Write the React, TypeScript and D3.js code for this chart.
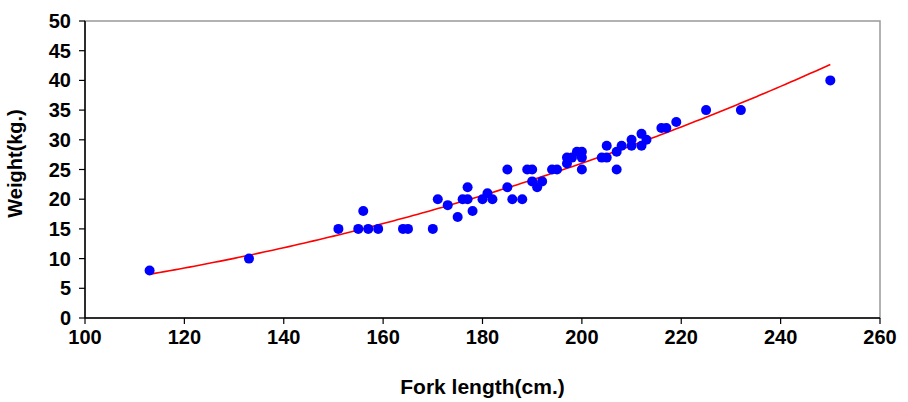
import React from 'react'
import * as d3 from 'd3'

// fork length (cm) and weight (kg) for each fish
const forkLength = [
  113, 133, 151, 155, 156, 157, 159, 164, 165, 170,
  171, 173, 175, 176, 177, 177, 178, 180, 181, 182,
  185, 185, 186, 188, 189, 190, 190, 191, 192, 194,
  195, 197, 197, 198, 199, 200, 200, 200, 204, 205,
  205, 207, 207, 208, 210, 210, 212, 212, 213, 216,
  217, 219, 225, 232, 250
]
const weight = [
  8, 10, 15, 15, 18, 15, 15, 15, 15, 15,
  20, 19, 17, 20, 22, 20, 18, 20, 21, 20,
  25, 22, 20, 20, 25, 25, 23, 22, 23, 25,
  25, 27, 26, 27, 28, 28, 27, 25, 27, 29,
  27, 25, 28, 29, 30, 29, 31, 29, 30, 32,
  32, 33, 35, 35, 40
]
const xTicks = [100, 120, 140, 160, 180, 200, 220, 240, 260]
const yTicks = [0, 5, 10, 15, 20, 25, 30, 35, 40, 45, 50]

const W = 908
const H = 402
const margin = { top: 21, right: 28, bottom: 84, left: 85 }

// power trend line W = a * L^b, least squares on logs (same as a spreadsheet power fit)
function powerFit(xs: number[], ys: number[]) {
  const lx = xs.map(Math.log)
  const ly = ys.map(Math.log)
  const mx = d3.mean(lx) as number
  const my = d3.mean(ly) as number
  let sxy = 0
  let sxx = 0
  lx.forEach((v, i) => {
    sxy += (v - mx) * (ly[i] - my)
    sxx += (v - mx) * (v - mx)
  })
  const b = sxy / sxx
  const a = Math.exp(my - b * mx)
  return (l: number) => a * Math.pow(l, b)
}

export default function App() {
  const w = W - margin.left - margin.right
  const h = H - margin.top - margin.bottom
  const x = d3.scaleLinear().domain([100, 260]).range([0, w])
  const y = d3.scaleLinear().domain([0, 50]).range([h, 0])

  const fit = powerFit(forkLength, weight)
  const [lo, hi] = d3.extent(forkLength) as [number, number]
  const fitPts = d3.range(lo, hi + 0.5, 1).map(l => [l, fit(l)] as [number, number])
  const line = d3.line<[number, number]>()
    .x(d => x(d[0]))
    .y(d => y(d[1]))

  const font = '"Liberation Sans", Arial, sans-serif'

  return (
    <svg width={W} height={H} style={{ position: 'absolute', left: 0, top: 0, background: '#fff' }}>
      <g transform={`translate(${margin.left},${margin.top})`} fontFamily={font} fontWeight="bold">
        {/* plot frame */}
        <rect x={0} y={0} width={w} height={h} fill="none" stroke="#999" strokeWidth={1.5} />
        <line x1={0} x2={0} y1={0} y2={h} stroke="#000" strokeWidth={1.5} />
        <line x1={0} x2={w} y1={h} y2={h} stroke="#000" strokeWidth={1.5} />

        {yTicks.map(t => (
          <g key={'y' + t} transform={`translate(0,${y(t)})`}>
            <line x1={-6} x2={0} stroke="#000" strokeWidth={1.2} />
            <text x={-14} dy="0.35em" textAnchor="end" fontSize={20}>{t}</text>
          </g>
        ))}
        {xTicks.map(t => (
          <g key={'x' + t} transform={`translate(${x(t)},${h})`}>
            <line y1={0} y2={6} stroke="#000" strokeWidth={1.2} />
            <text y={26} textAnchor="middle" fontSize={20}>{t}</text>
          </g>
        ))}

        <path d={line(fitPts) as string} fill="none" stroke="#ff0000" strokeWidth={1.6} />

        {forkLength.map((l, i) => (
          <circle key={i} cx={x(l)} cy={y(weight[i])} r={5} fill="#0000ff" />
        ))}

        <text x={w / 2 + 0} y={h + 76} textAnchor="middle" fontSize={21}>Fork length(cm.)</text>
        <text transform={`translate(-63,${h / 2 - 6}) rotate(-90)`} textAnchor="middle" fontSize={20}>Weight(kg.)</text>
      </g>
    </svg>
  )
}
